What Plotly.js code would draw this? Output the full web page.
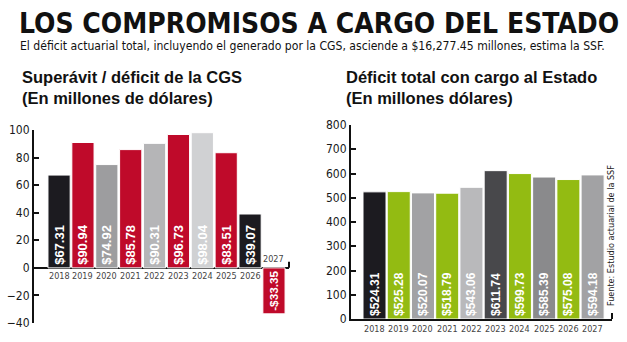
<!DOCTYPE html>
<html>
<head>
<meta charset="utf-8">
<script src="https://cdn.plot.ly/plotly-3.0.1.min.js"></script>
<style>
html,body{margin:0;padding:0;background:#fff;}
#chart{width:627px;height:342px;}
</style>
</head>
<body>
<div id="chart"></div>
<script>
// ---- Data ----
const years = ["2018","2019","2020","2021","2022","2023","2024","2025","2026","2027"];
const cgsValues = [67.31, 90.94, 74.92, 85.78, 90.31, 96.73, 98.04, 83.51, 39.07, -33.35];
const totalValues = [524.31, 525.28, 520.07, 518.79, 543.06, 611.74, 599.73, 585.39, 575.08, 594.18];
const leftTicks = [-40, -20, 0, 20, 40, 60, 80, 100];
const rightTicks = [0, 100, 200, 300, 400, 500, 600, 700, 800];

// ---- Styles ----
const cgsColors = ["#1c1b20","#bf0a2a","#9d9d9f","#bf0a2a","#b5b5b7","#bf0a2a","#d0d1d3","#bf0a2a","#1c1b20","#bf0a2a"];
const totalColors = ["#1c1b20","#93bb12","#a2a2a4","#93bb12","#b9b9bb","#48484b","#93bb12","#8a8a8c","#93bb12","#a2a2a4"];

const W = 627, H = 342;
const px = x => x / W;
const py = y => 1 - y / H;

const narrow = "DejaVu Sans Condensed, Liberation Sans, sans-serif";
const barFont = {family: "Liberation Sans, Arial, sans-serif", size: 13, color: "#ffffff", weight: "bold"};

function money(v){ return (v < 0 ? "-$" : "$") + Math.abs(v).toFixed(2); }

const traces = [
  {
    type: "bar", x: years, y: cgsValues, xaxis: "x", yaxis: "y",
    marker: {color: cgsColors, line: {color: "#ffffff", width: 1}},
    width: 0.93,
    text: cgsValues.map(money), textposition: "inside", insidetextanchor: "start",
    textangle: -90, textfont: barFont, hoverinfo: "skip", cliponaxis: false
  },
  {
    type: "bar", x: years, y: totalValues, xaxis: "x2", yaxis: "y2",
    marker: {color: totalColors, line: {color: "#ffffff", width: 1}},
    width: 0.95,
    text: totalValues.map(money), textposition: "inside", insidetextanchor: "start",
    textangle: -90, textfont: Object.assign({}, barFont, {size: 12}), hoverinfo: "skip", cliponaxis: false
  }
];

const tickFont = {family: narrow, size: 12, color: "#1a1a1a"};

const annotations = [
  {xref:"paper", yref:"paper", x: px(17), y: py(23), xanchor:"left", yanchor:"middle",
   text:"LOS COMPROMISOS A CARGO DEL ESTADO", showarrow:false,
   font:{family: narrow, size: 28, color:"#111", weight:"bold"}},
  {xref:"paper", yref:"paper", x: px(18), y: py(46), xanchor:"left", yanchor:"middle",
   text:"El déficit actuarial total, incluyendo el generado por la CGS, asciende a $16,277.45 millones, estima la SSF.", showarrow:false,
   font:{family: narrow, size: 12.1, color:"#111"}},
  {xref:"paper", yref:"paper", x: px(20), y: py(87), xanchor:"left", yanchor:"middle", align:"left",
   text:"Superávit / déficit de la CGS<br>(En millones de dólares)", showarrow:false,
   font:{family:"Liberation Sans, Arial, sans-serif", size: 16.5, color:"#111", weight:"bold"}},
  {xref:"paper", yref:"paper", x: px(344), y: py(87), xanchor:"left", yanchor:"middle", align:"left",
   text:"Déficit total con cargo al Estado<br>(En millones dólares)", showarrow:false,
   font:{family:"Liberation Sans, Arial, sans-serif", size: 16.5, color:"#111", weight:"bold"}},
  {xref:"paper", yref:"paper", x: px(611), y: py(236), xanchor:"center", yanchor:"middle",
   text:"Fuente: Estudio actuarial de la SSF", textangle:-90, showarrow:false,
   font:{family: narrow, size: 9, color:"#222"}}
];

years.forEach((yr, i) => {
  const neg = cgsValues[i] < 0;
  annotations.push({xref:"x", yref:"y", x: i, y: 0, showarrow:false,
    yanchor: neg ? "bottom" : "top", yshift: neg ? 2 : -1, text: yr,
    font:{family: narrow, size: 9, color:"#444"}});
  annotations.push({xref:"x2", yref:"y2", x: i, y: 0, showarrow:false,
    yanchor: "top", yshift: -3, text: yr,
    font:{family: narrow, size: 9, color:"#444"}});
});

const shapes = [
  {type:"line", xref:"x domain", yref:"y", x0:1, x1:1, ysizemode:"pixel", yanchor:0, y0:0, y1:6,
   line:{color:"#111", width:2}},
  {type:"line", xref:"x2 domain", yref:"y2", x0:1, x1:1, ysizemode:"pixel", yanchor:0, y0:0, y1:6,
   line:{color:"#111", width:2}}
];

const layout = {
  width: W, height: H,
  margin: {l:0, r:0, t:0, b:0},
  paper_bgcolor: "#ffffff", plot_bgcolor: "rgba(0,0,0,0)",
  showlegend: false, bargap: 0,
  font: {family: narrow},
  xaxis: {domain:[px(34), px(289)], type:"category", range:[-1.05, 9.63],
          showticklabels:false, showline:false, showgrid:false, zeroline:false, ticks:"", fixedrange:true},
  yaxis: {domain:[py(323), py(130)], range:[-40, 100], tickvals: leftTicks,
          showline:true, linecolor:"#111", linewidth:2, ticks:"inside", ticklen:5, tickwidth:2, tickcolor:"#111",
          showgrid:false, zeroline:true, zerolinecolor:"#111", zerolinewidth:2,
          tickfont: tickFont, anchor:"x"},
  xaxis2: {domain:[px(351), px(612)], type:"category", range:[-0.97, 9.8], anchor:"y2",
          showticklabels:false, showline:true, linecolor:"#111", linewidth:2, showgrid:false, zeroline:false, ticks:""},
  yaxis2: {domain:[py(319), py(125)], range:[0, 800], tickvals: rightTicks, anchor:"x2",
          showline:true, linecolor:"#111", linewidth:2, ticks:"inside", ticklen:5, tickwidth:2, tickcolor:"#111",
          showgrid:false, zeroline:false, tickfont: tickFont},
  annotations: annotations,
  shapes: shapes
};

Plotly.newPlot("chart", traces, layout, {staticPlot:true, displayModeBar:false});
</script>
</body>
</html>
